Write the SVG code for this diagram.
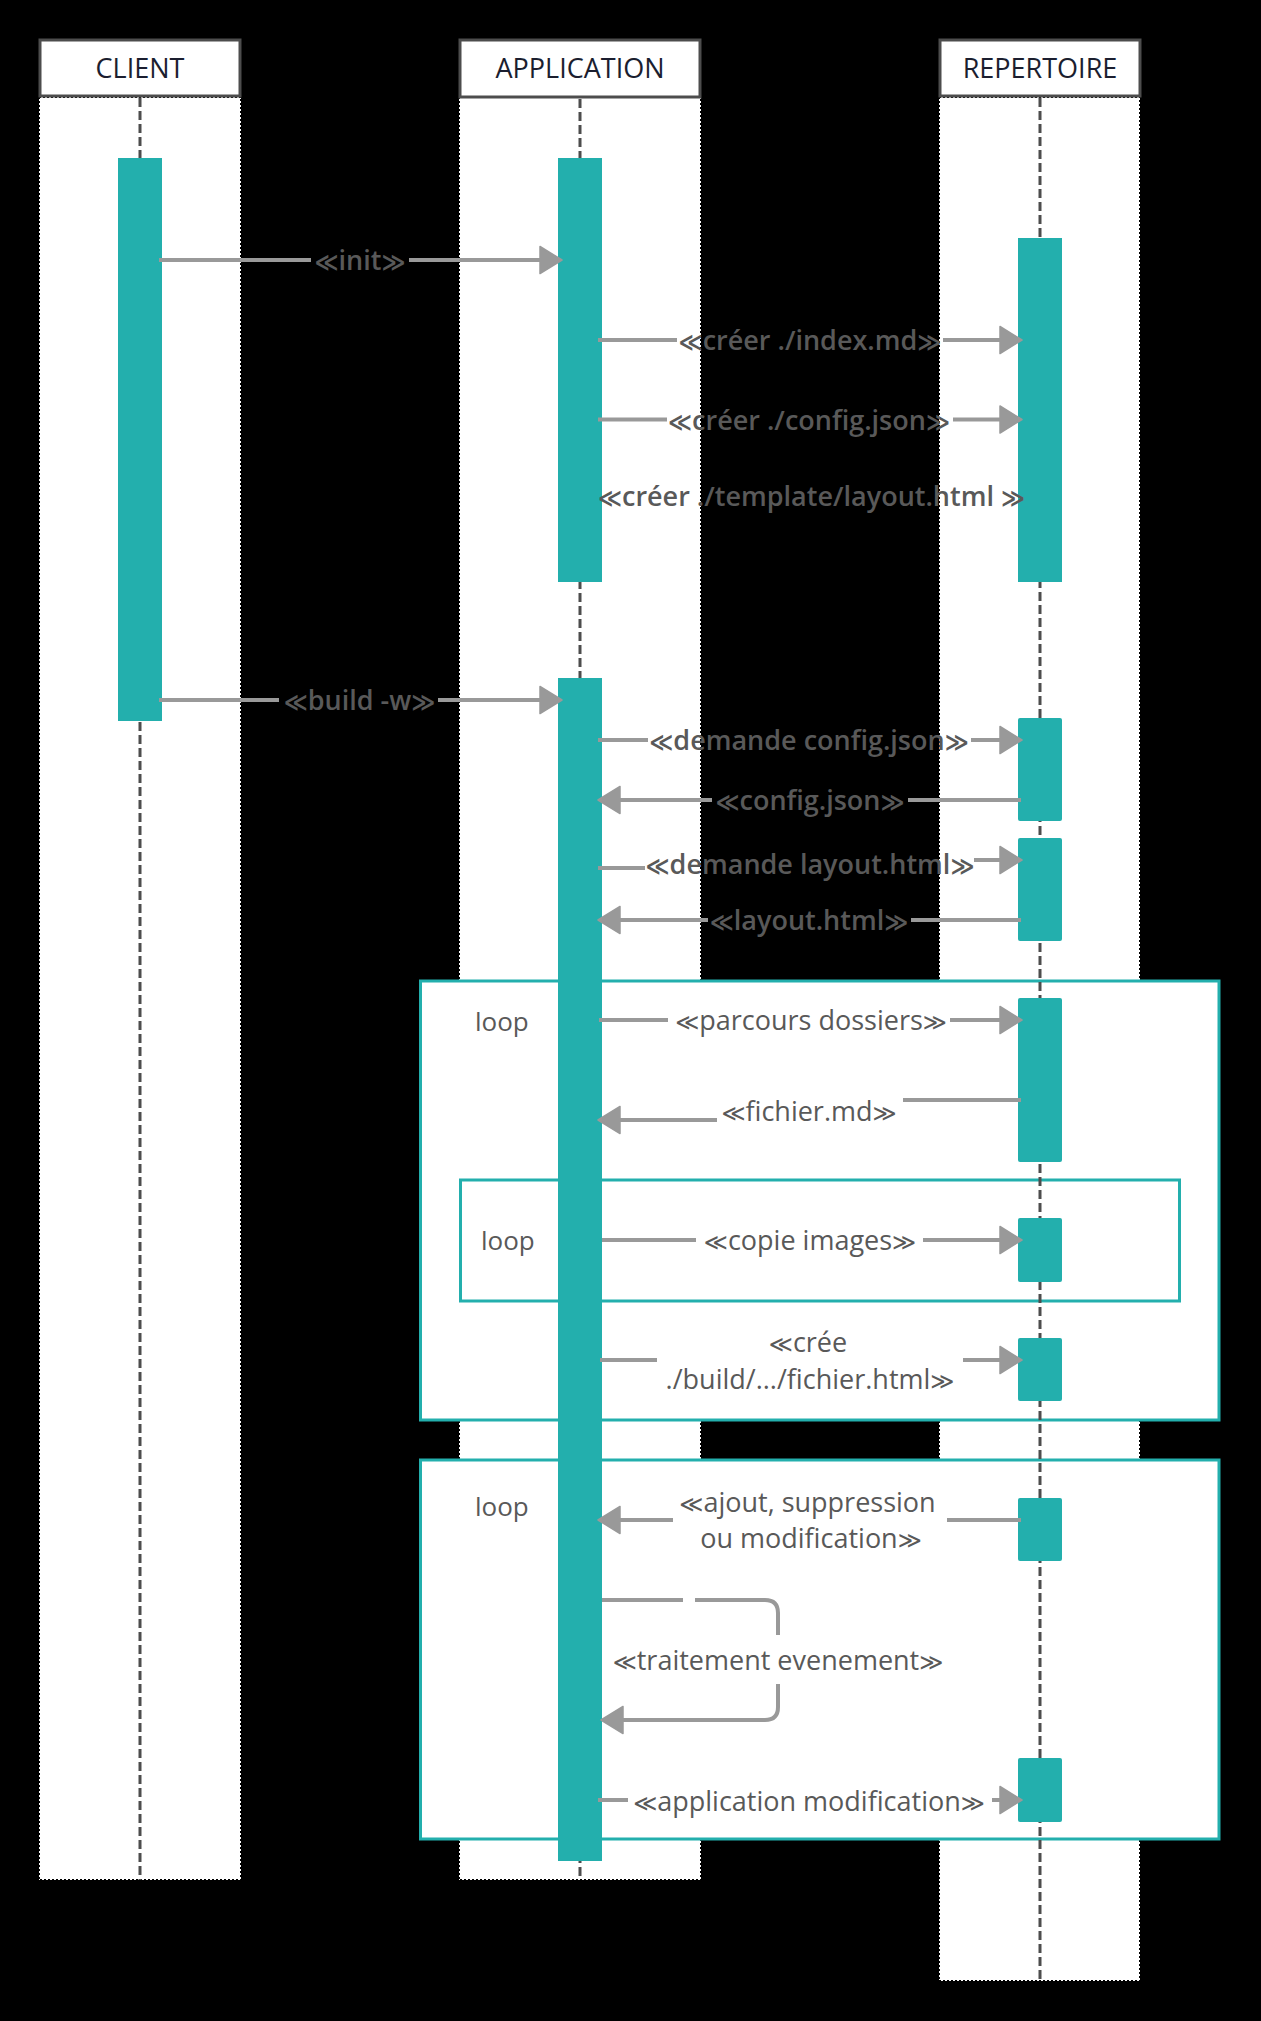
<svg xmlns="http://www.w3.org/2000/svg" width="1261" height="2021" viewBox="0 0 1261 2021">
<style>
.col{fill:#fff;stroke:#000;stroke-width:2;stroke-dasharray:2 2}
.head{fill:#fff;stroke:#4d4d4d;stroke-width:3}
.htxt{font-family:'Open Sans','DejaVu Sans',sans-serif;font-size:27px;fill:#1b1e2f;text-anchor:middle}
.life{stroke:#4d4d4d;stroke-width:3;stroke-dasharray:9 4;fill:none}
.bar{fill:#23afad}
.frame{fill:#fff;stroke:#23afad;stroke-width:3}
.ln{stroke:#999;stroke-width:4;fill:none}
.arr{stroke:#999;stroke-width:4;fill:none;marker-end:url(#ah)}
.lbl{font-family:'Open Sans','DejaVu Sans',sans-serif;font-size:27px;fill:#595959;text-anchor:middle}
.b{font-weight:600}
.g{font-family:'DejaVu Sans',sans-serif;font-size:23px}
.loop{font-family:'Open Sans','DejaVu Sans',sans-serif;font-size:26px;fill:#595959}
</style>
<defs>
<marker id="ah" markerUnits="userSpaceOnUse" markerWidth="26" markerHeight="30" refX="18" refY="13.5" orient="auto" overflow="visible">
<path d="M0,0 L22,13.5 L0,27 Z" fill="#999" stroke="#999" stroke-width="1.5" stroke-linejoin="round"/>
</marker>
</defs>
<rect x="0" y="0" width="1261" height="2021" fill="#000"/>

<g id="client">
<rect class="col" x="39" y="97" width="202" height="1783"/>
<rect class="head" x="40" y="40" width="200" height="56"/>
<text class="htxt" x="140" y="78">CLIENT</text>
</g>
<g id="application">
<rect class="col" x="459" y="97" width="242" height="1783"/>
<rect class="head" x="460" y="40" width="240" height="57"/>
<text class="htxt" x="580" y="78">APPLICATION</text>
</g>
<g id="repertoire">
<rect class="col" x="939" y="97" width="201" height="1884"/>
<rect class="head" x="940" y="40" width="200" height="56"/>
<text class="htxt" x="1040" y="78">REPERTOIRE</text>
</g>

<g id="loop1">
<rect class="frame" x="420.5" y="981" width="798.5" height="439"/>
<text class="loop" x="475" y="1030.5">loop</text>
</g>
<g id="loop2">
<rect class="frame" x="460.5" y="1180" width="719" height="121"/>
<text class="loop" x="481" y="1250">loop</text>
</g>
<g id="loop3">
<rect class="frame" x="420.5" y="1460" width="798.5" height="379"/>
<text class="loop" x="475" y="1516">loop</text>
</g>

<g id="lifelines">
<line class="life" x1="140" y1="98" x2="140" y2="1880"/>
<line class="life" x1="580" y1="99" x2="580" y2="1880"/>
<line class="life" x1="1040" y1="98" x2="1040" y2="1981"/>
</g>

<g id="activations">
<rect class="bar" x="118" y="158" width="44" height="563"/>
<rect class="bar" x="558" y="158" width="44" height="424"/>
<rect class="bar" x="1018" y="238" width="44" height="344"/>
<rect class="bar" x="558" y="678" width="44" height="1183"/>
<rect class="bar" x="1018" y="718" width="44" height="103" rx="2"/>
<rect class="bar" x="1018" y="838" width="44" height="103" rx="2"/>
<rect class="bar" x="1018" y="998" width="44" height="164" rx="2"/>
<rect class="bar" x="1018" y="1218" width="44" height="64" rx="2"/>
<rect class="bar" x="1018" y="1338" width="44" height="63" rx="2"/>
<rect class="bar" x="1018" y="1498" width="44" height="63" rx="2"/>
<rect class="bar" x="1018" y="1758" width="44" height="64" rx="2"/>
</g>

<g id="connectors">
<g id="m-init">
<path class="ln" d="M159,260 H311"/><path class="arr" d="M409,260 H558"/>
<text class="lbl b" x="360" y="269.5"><tspan class="g">≪</tspan>init<tspan class="g">≫</tspan></text>
</g>
<g id="m-index">
<path class="ln" d="M598,340 H677"/><path class="arr" d="M943,340 H1018"/>
<text class="lbl b" x="810" y="350"><tspan class="g">≪</tspan>créer ./index.md<tspan class="g">≫</tspan></text>
</g>
<g id="m-config">
<path class="ln" d="M598,419.5 H667"/><path class="arr" d="M953,419.5 H1018"/>
<text class="lbl b" x="809" y="429.5"><tspan class="g">≪</tspan>créer ./config.json<tspan class="g">≫</tspan></text>
</g>
<g id="m-template">
<text class="lbl b" x="811.5" y="505.5"><tspan class="g">≪</tspan>créer ./template/layout.html <tspan class="g">≫</tspan></text>
</g>
<g id="m-build">
<path class="ln" d="M159,700 H279"/><path class="arr" d="M438,700 H558"/>
<text class="lbl b" x="359.5" y="709.5"><tspan class="g">≪</tspan>build -w<tspan class="g">≫</tspan></text>
</g>
<g id="m-demconfig">
<path class="ln" d="M598,740 H648"/><path class="arr" d="M971,740 H1018"/>
<text class="lbl b" x="809" y="749.5"><tspan class="g">≪</tspan>demande config.json<tspan class="g">≫</tspan></text>
</g>
<g id="m-retconfig">
<path class="ln" d="M1021,800 H908"/><path class="arr" d="M712,800 H602"/>
<text class="lbl b" x="810" y="809.5"><tspan class="g">≪</tspan>config.json<tspan class="g">≫</tspan></text>
</g>
<g id="m-demlayout">
<path class="ln" d="M598,868 H645"/><path class="arr" d="M974,860 H1018"/>
<text class="lbl b" x="810" y="874"><tspan class="g">≪</tspan>demande layout.html<tspan class="g">≫</tspan></text>
</g>
<g id="m-retlayout">
<path class="ln" d="M1021,920 H911"/><path class="arr" d="M708,920 H602"/>
<text class="lbl b" x="809" y="929.5"><tspan class="g">≪</tspan>layout.html<tspan class="g">≫</tspan></text>
</g>
<g id="m-parcours">
<path class="ln" d="M599,1020 H668"/><path class="arr" d="M950,1020 H1018"/>
<text class="lbl" x="811" y="1029.5"><tspan class="g">≪</tspan>parcours dossiers<tspan class="g">≫</tspan></text>
</g>
<g id="m-fichier">
<path class="ln" d="M1021,1100 H903"/><path class="arr" d="M717,1120 H602"/>
<text class="lbl" x="809" y="1120.5"><tspan class="g">≪</tspan>fichier.md<tspan class="g">≫</tspan></text>
</g>
<g id="m-copie">
<path class="ln" d="M602,1240 H696"/><path class="arr" d="M923,1240 H1018"/>
<text class="lbl" x="810" y="1249.5"><tspan class="g">≪</tspan>copie images<tspan class="g">≫</tspan></text>
</g>
<g id="m-cree">
<path class="ln" d="M600,1360 H657"/><path class="arr" d="M963,1360 H1018"/>
<text class="lbl" x="808" y="1351.5"><tspan class="g">≪</tspan>crée</text>
<text class="lbl" x="810" y="1388.5">./build/.../fichier.html<tspan class="g">≫</tspan></text>
</g>
<g id="m-ajout">
<path class="ln" d="M1021,1520 H947"/><path class="arr" d="M673,1520 H602"/>
<text class="lbl" x="807.5" y="1511.5"><tspan class="g">≪</tspan>ajout, suppression</text>
<text class="lbl" x="811" y="1548">ou modification<tspan class="g">≫</tspan></text>
</g>
<g id="m-traitement">
<path class="ln" d="M602,1600 H683"/>
<path class="ln" d="M695,1600 H765 Q778,1600 778,1613 V1635"/>
<path class="arr" d="M778,1684 V1707 Q778,1720 765,1720 H605"/>
<text class="lbl" x="778" y="1669.5"><tspan class="g">≪</tspan>traitement evenement<tspan class="g">≫</tspan></text>
</g>
<g id="m-appmod">
<path class="ln" d="M598,1800 H628"/><path class="arr" d="M992,1800 H1018"/>
<text class="lbl" x="809" y="1810.5"><tspan class="g">≪</tspan>application modification<tspan class="g">≫</tspan></text>
</g>
</g>
</svg>
